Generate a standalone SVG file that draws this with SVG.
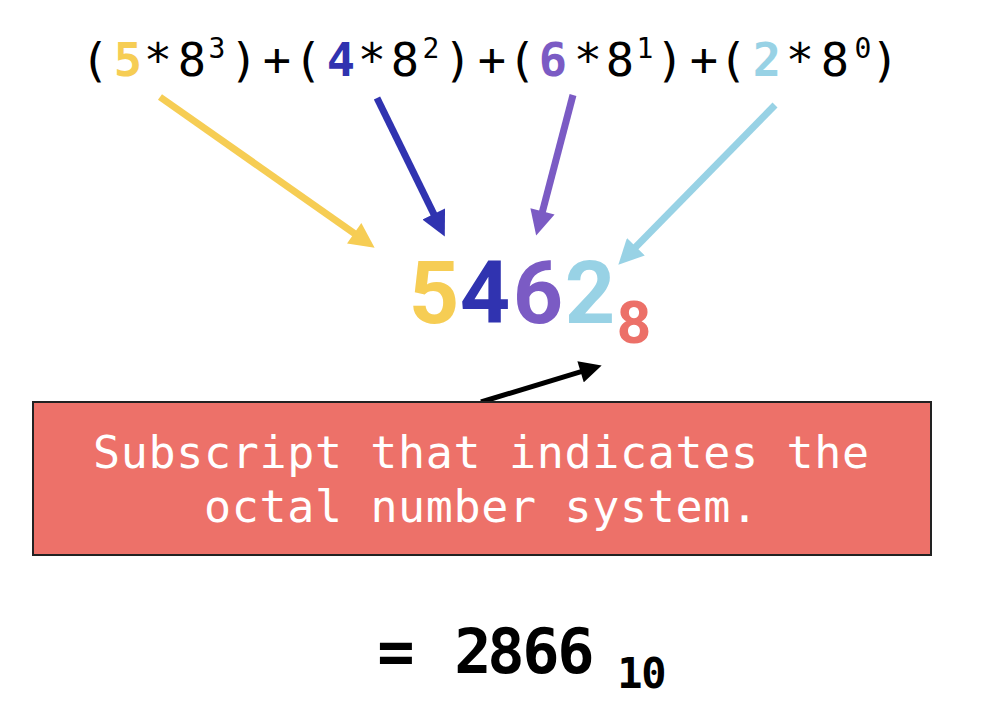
<svg xmlns="http://www.w3.org/2000/svg" width="986" height="712" viewBox="0 0 986 712">
<style>
.eq{font-family:"DejaVu Sans Mono","Liberation Mono",monospace;font-size:47px;fill:#000;text-anchor:middle}
.sup{font-size:28px}
.b{font-weight:bold}
.cy{fill:#F6CD54}.cb{fill:#3033B0}.cp{fill:#7B5BC4}.cl{fill:#98D2E5}.cr{fill:#EC7068}
.big{font-family:Roboto,"Liberation Sans",sans-serif;font-weight:bold;text-anchor:middle}
.res{font-family:"DejaVu Sans Mono","Liberation Mono",monospace;font-weight:bold;text-anchor:middle;fill:#000}
.box{fill:#ED7169;stroke:#222;stroke-width:2}
.boxt{font-family:"DejaVu Sans Mono","Liberation Mono",monospace;font-size:45px;fill:#fff;text-anchor:middle}
.ar{fill:none;stroke-width:7}
</style>
<defs>
<marker id="hy" viewBox="0 0 10 10" refX="3" refY="5" markerUnits="userSpaceOnUse" markerWidth="26" markerHeight="25" orient="auto"><path d="M0,0L10,5L0,10z" fill="#F6CD54"/></marker>
<marker id="hb" viewBox="0 0 10 10" refX="3" refY="5" markerUnits="userSpaceOnUse" markerWidth="26" markerHeight="25" orient="auto"><path d="M0,0L10,5L0,10z" fill="#3033B0"/></marker>
<marker id="hp" viewBox="0 0 10 10" refX="3" refY="5" markerUnits="userSpaceOnUse" markerWidth="26" markerHeight="25" orient="auto"><path d="M0,0L10,5L0,10z" fill="#7B5BC4"/></marker>
<marker id="hl" viewBox="0 0 10 10" refX="3" refY="5" markerUnits="userSpaceOnUse" markerWidth="26" markerHeight="25" orient="auto"><path d="M0,0L10,5L0,10z" fill="#98D2E5"/></marker>
<marker id="hk" viewBox="0 0 10 10" refX="3" refY="5" markerUnits="userSpaceOnUse" markerWidth="24" markerHeight="22" orient="auto"><path d="M0,0L10,5L0,10z" fill="#000"/></marker>
</defs>
<rect width="986" height="712" fill="#fff"/>
<g id="connectors">
<line class="ar" x1="160" y1="97" x2="360.3" y2="237.6" stroke="#F6CD54" marker-end="url(#hy)"/>
<line class="ar" x1="377" y1="98" x2="437.1" y2="220.8" stroke="#3033B0" marker-end="url(#hb)"/>
<line class="ar" x1="573" y1="95" x2="540.6" y2="218.6" stroke="#7B5BC4" marker-end="url(#hp)"/>
<line class="ar" x1="775" y1="105" x2="630.6" y2="252.2" stroke="#98D2E5" marker-end="url(#hl)"/>
<line x1="481" y1="402" x2="586.9" y2="369.9" stroke="#000" stroke-width="5" marker-end="url(#hk)"/>
</g>
<g id="equation">
<text class="eq" y="76"><tspan x="95">(</tspan><tspan x="128" class="b cy">5</tspan><tspan x="158 192">*8</tspan><tspan x="217" y="58" class="sup">3</tspan><tspan x="244 277 308" y="76">)+(</tspan><tspan x="341" class="b cb">4</tspan><tspan x="372 405">*8</tspan><tspan x="431" y="58" class="sup">2</tspan><tspan x="458 492 522" y="76">)+(</tspan><tspan x="553" class="b cp">6</tspan><tspan x="588 620">*8</tspan><tspan x="645" y="58" class="sup">1</tspan><tspan x="670 704 733" y="76">)+(</tspan><tspan x="767" class="b cl">2</tspan><tspan x="800 835">*8</tspan><tspan x="863" y="58" class="sup">0</tspan><tspan x="885" y="76">)</tspan></text>
</g>
<g id="octal">
<text class="big" y="323" font-size="88"><tspan x="434" class="cy">5</tspan><tspan x="485" class="cb">4</tspan><tspan x="538" class="cp">6</tspan><tspan x="590" class="cl">2</tspan><tspan x="634" y="343" font-size="60" class="cr">8</tspan></text>
</g>
<g id="note">
<rect class="box" x="33" y="402" width="898" height="153"/>
<text class="boxt" x="481" y="468" textLength="776">Subscript that indicates the</text>
<text class="boxt" x="481" y="522" textLength="554">octal number system.</text>
</g>
<g id="result">
<text class="res" y="673" font-size="62"><tspan x="396">=</tspan><tspan x="473 506 541 576">2866</tspan><tspan x="630 654" y="688" font-size="42">10</tspan></text>
</g>
</svg>
